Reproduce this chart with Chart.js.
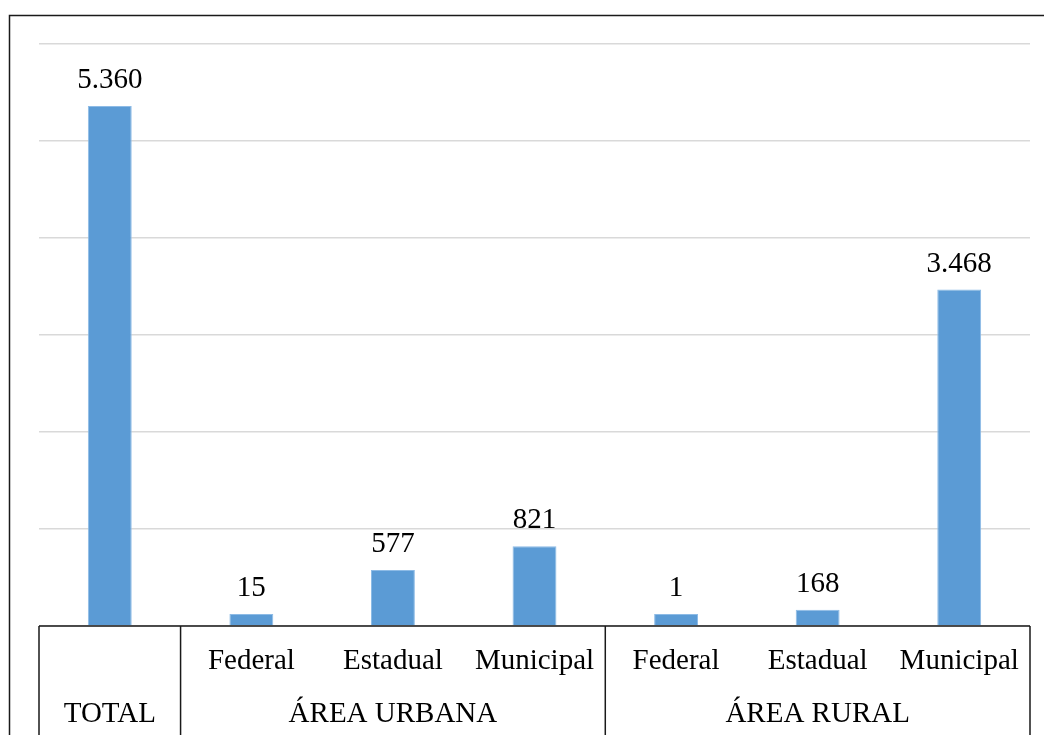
<!DOCTYPE html>
<html lang="pt">
<head>
    <meta charset="UTF-8">
    <title>Total por área e dependência</title>
    <script src="https://cdn.jsdelivr.net/npm/chart.js"></script>
    <style>
        html, body {
            margin: 0;
            padding: 0;
            background: #ffffff;
        }
        .chart-container {
            width: 1044px;
            height: 735px;
        }
    </style>
</head>
<body>

    <div class="chart-container">
        <canvas id="grafico"></canvas>
    </div>

    <script>
        // Dados
        const subLabels = ["", "Federal", "Estadual", "Municipal", "Federal", "Estadual", "Municipal"];
        const valores = [5360, 15, 577, 821, 1, 168, 3468];
        const grupos = ["TOTAL", "ÁREA URBANA", "ÁREA RURAL"];
        const gruposInicio = [0, 1, 4];
        const gruposFim = [0, 3, 6];
        const yMax = 6000;
        const yPasso = 1000;

        const fonte = "29px 'Liberation Serif', 'Times New Roman', serif";

        function formatar(n) {
            return String(n).replace(/\B(?=(\d{3})+(?!\d))/g, ".");
        }

        // Rótulos, linhas do eixo e moldura
        const desenhoExtra = {
            id: "desenhoExtra",
            afterDatasetsDraw(chart) {
                const ctx = chart.ctx;
                const area = chart.chartArea;
                const x = chart.scales.x;
                const meta = chart.getDatasetMeta(0);
                const n = valores.length;

                // limite entre categorias
                const limite = (i) => {
                    if (i < 0) return area.left;
                    if (i >= n - 1) return area.right;
                    return (x.getPixelForValue(i) + x.getPixelForValue(i + 1)) / 2;
                };

                ctx.save();
                ctx.font = fonte;
                ctx.fillStyle = "#000000";
                ctx.textAlign = "center";
                ctx.textBaseline = "alphabetic";

                // valores acima das barras
                meta.data.forEach((bar, i) => {
                    ctx.fillText(formatar(valores[i]), bar.x, bar.y - 18);
                });

                // primeira linha de rótulos
                subLabels.forEach((lab, i) => {
                    if (lab) ctx.fillText(lab, x.getPixelForValue(i), area.bottom + 43);
                });

                // rótulos dos grupos
                grupos.forEach((g, k) => {
                    const a = limite(gruposInicio[k] - 1);
                    const b = limite(gruposFim[k]);
                    ctx.fillText(g, (a + b) / 2, area.bottom + 96);
                });

                // eixo horizontal e divisórias
                ctx.strokeStyle = "#1a1a1a";
                ctx.lineWidth = 1.5;
                ctx.beginPath();
                ctx.moveTo(area.left, area.bottom);
                ctx.lineTo(area.right, area.bottom);
                const divisorias = [area.left];
                gruposFim.forEach((f) => divisorias.push(limite(f)));
                divisorias.forEach((px) => {
                    ctx.moveTo(px, area.bottom);
                    ctx.lineTo(px, chart.height);
                });
                ctx.stroke();

                // moldura externa
                ctx.beginPath();
                ctx.moveTo(9.5, chart.height);
                ctx.lineTo(9.5, 15.5);
                ctx.lineTo(chart.width, 15.5);
                ctx.stroke();
                ctx.restore();
            }
        };

        const ctx = document.getElementById("grafico").getContext("2d");
        new Chart(ctx, {
            type: "bar",
            data: {
                labels: subLabels,
                datasets: [{
                    data: valores,
                    backgroundColor: "#5b9bd5",
                    borderColor: "#8dbbe6",
                    borderWidth: 1,
                    minBarLength: 12,
                    barPercentage: 1,
                    categoryPercentage: 0.31
                }]
            },
            options: {
                responsive: true,
                maintainAspectRatio: false,
                animation: false,
                layout: {
                    padding: { left: 39, top: 44, right: 14, bottom: 109 }
                },
                plugins: {
                    legend: { display: false },
                    tooltip: { enabled: false }
                },
                scales: {
                    x: {
                        display: false
                    },
                    y: {
                        min: 0,
                        max: yMax,
                        ticks: { display: false, stepSize: yPasso },
                        border: { display: false },
                        grid: {
                            color: "#d9d9d9",
                            lineWidth: 1.5,
                            drawTicks: false
                        }
                    }
                }
            },
            plugins: [desenhoExtra]
        });
    </script>

</body>
</html>
